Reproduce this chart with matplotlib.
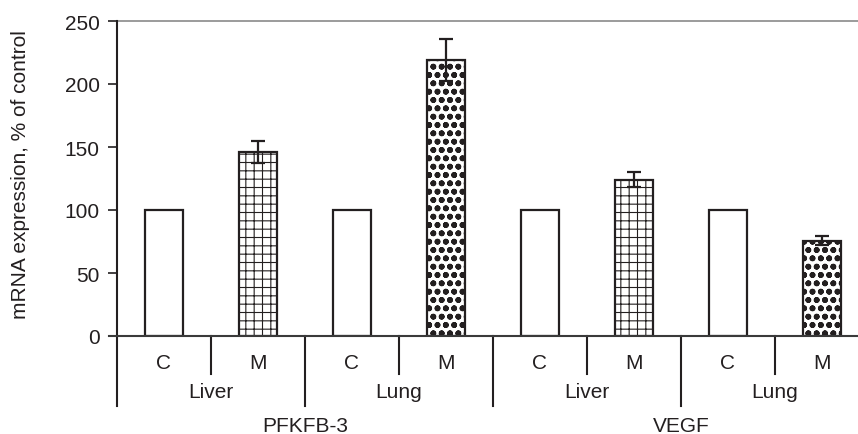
import matplotlib
matplotlib.use("Agg")
import matplotlib.pyplot as plt
import matplotlib.transforms as mtransforms

plt.rcParams['font.family'] = ['Liberation Sans', 'DejaVu Sans']

# data
genes = ["PFKFB-3", "VEGF"]
organs = ["Liver", "Lung", "Liver", "Lung"]
conditions = ["C", "M", "C", "M", "C", "M", "C", "M"]
values = [100, 146, 100, 219, 100, 124, 100, 75.5]
errors = [0, 8.5, 0, 16.5, 0, 6, 0, 3.5]
hatches = ["", "++", "", "oo", "", "++", "", "oo"]
hatch_lw = [0.8, 0.8, 0.8, 1.8, 0.8, 0.8, 0.8, 1.8]
yticks = [0, 50, 100, 150, 200, 250]

ink = "#231f20"

fig = plt.figure(figsize=(8.58, 4.35), dpi=100)
ax = fig.add_axes([117/858, 98/435, 741/858, 315/435])

for i, (v, h, hl) in enumerate(zip(values, hatches, hatch_lw)):
    with plt.rc_context({'hatch.linewidth': hl}):
        bars = ax.bar(i, v, width=0.40, facecolor="white", edgecolor=ink,
                      linewidth=1.6, hatch=h, zorder=2)
    for b in bars:
        if hasattr(b, "set_hatch_linewidth"):
            b.set_hatch_linewidth(hl)
for i, (v, e) in enumerate(zip(values, errors)):
    if e > 0:
        ax.errorbar(i, v, yerr=e, fmt="none", ecolor=ink, elinewidth=1.6,
                    capsize=5, capthick=1.6, zorder=3)

ax.set_xlim(-0.5, 7.383)
ax.set_ylim(0, 250)
ax.set_yticks(yticks)
ax.tick_params(axis="y", direction="out", length=6.5, width=1.2, color=ink,
               labelsize=15, labelcolor=ink, pad=6)
ax.set_xticks([])
for s in ["right", "top", "bottom"]:
    ax.spines[s].set_visible(False)
ax.spines["left"].set_color(ink)
ax.spines["left"].set_linewidth(1.5)

# top grey line & baseline
ax.axhline(250, color="#8a8a8a", lw=1.2, zorder=1, clip_on=False)
ax.plot([-0.59, 7.383], [0, 0], color="#3a3a3a", lw=1.5, clip_on=False, zorder=4)

trans = mtransforms.blended_transform_factory(ax.transData, ax.transAxes)
ax.plot([-0.5, -0.5], [0, -0.222], transform=trans, color=ink, lw=1.5, clip_on=False)
for i in range(len(values) - 1):
    xd = i + 0.5
    y_end = -0.1206 if i % 2 == 0 else -0.222
    ax.plot([xd, xd], [0, y_end], transform=trans, color=ink, lw=1.5, clip_on=False)

for i, c in enumerate(conditions):
    ax.text(i, -0.085, c, transform=trans, ha="center", va="center",
            fontsize=15, color=ink)
for j, o in enumerate(organs):
    ax.text(2 * j + 0.5, -0.177, o, transform=trans, ha="center", va="center",
            fontsize=15, color=ink)
for k, g in enumerate(genes):
    ax.text(4 * k + 1.5, -0.285, g, transform=trans, ha="center", va="center",
            fontsize=15, color=ink)

fig.text(21/858, 1 - 175/435, "mRNA expression, % of control", rotation=90,
         ha="center", va="center", fontsize=15, color=ink)

fig.savefig("out.png", dpi=100)
